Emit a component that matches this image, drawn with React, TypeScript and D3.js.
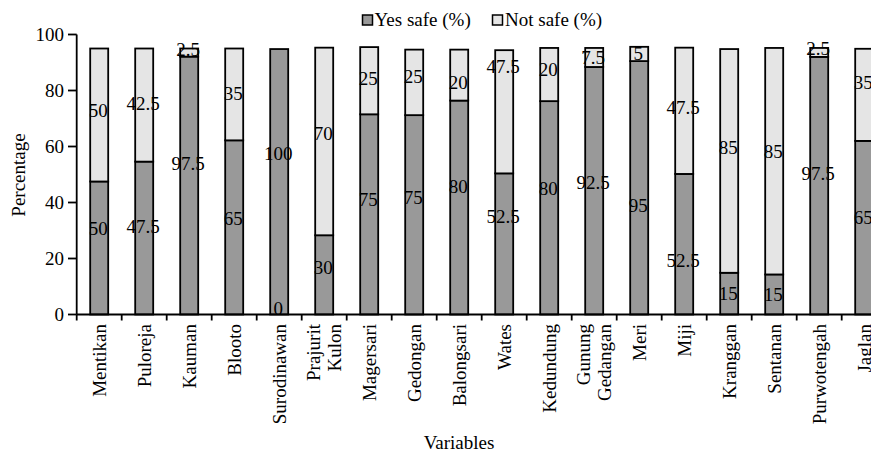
import React from "react";
import * as d3 from "d3";

const categories: string[][] = [
  ["Mentikan"], ["Puloreja"], ["Kauman"], ["Blooto"], ["Surodinawan"], ["Prajurit", "Kulon"],
  ["Magersari"], ["Gedongan"], ["Balongsari"], ["Wates"], ["Kedundung"], ["Gunung", "Gedangan"],
  ["Meri"], ["Miji"], ["Kranggan"], ["Sentanan"], ["Purwotengah"], ["Jaglan"],
];

// bar heights as drawn (axis units)
const yesValues = [47.5, 54.6, 92.1, 62.2, 94.8, 28.3, 71.5, 71.2, 76.4, 50.4, 76.2, 88.4, 90.5, 50.2, 14.9, 14.3, 92.0, 62.0];
const notValues = [47.5, 40.4, 2.9, 32.8, 0, 67.0, 24.0, 23.4, 18.2, 44.0, 19.0, 6.8, 5.1, 45.1, 79.9, 80.9, 3.2, 32.9];

// printed data labels
const yesLabels = ["50", "47.5", "97.5", "65", "100", "30", "75", "75", "80", "52.5", "80", "92.5", "95", "52.5", "15", "15", "97.5", "65"];
const notLabels = ["50", "42.5", "2.5", "35", "0", "70", "25", "25", "20", "47.5", "20", "7.5", "5", "47.5", "85", "85", "2.5", "35"];

// where the labels sit (axis units)
const yesLabelAt = [30.9, 31.6, 54.1, 34.5, 57.7, 17, 41.3, 42, 45.9, 35.2, 45.2, 47.3, 39.1, 19.5, 7.7, 7.3, 50.5, 34.8];
const notLabelAt = [73, 75.5, 94.8, 79.1, 2.3, 64.8, 84.5, 85.2, 83, 88.8, 87.7, 92, 93.4, 74.1, 59.8, 58.4, 95.2, 83];

const yTicks = [0, 20, 40, 60, 80, 100];
const seriesNames = ["Yes safe (%)", "Not safe (%)"];

const W = 871;
const H = 454;
const FONT = "'Liberation Serif', 'Times New Roman', serif";
const FS = 19;
const YES_FILL = "#999999";
const NOT_FILL = "#e5e5e5";
const SW = 1.8;

export default function App() {
  const keys = categories.map((c) => c.join(" "));
  const x = d3.scaleBand<string>().domain(keys).range([76.7, 886.7]).paddingInner(0.6).paddingOuter(0.3);
  const y = d3.scaleLinear().domain([0, 100]).range([314.5, 34.5]);
  const step = x.step();
  const bw = x.bandwidth();

  return (
    <svg width={W} height={H} style={{ position: "absolute", left: 0, top: 0 }} fontFamily={FONT}>
      <rect width={W} height={H} fill="#fff" />
      {/* legend */}
      <g>
        <rect x={362.5} y={15} width={10} height={10} fill={YES_FILL} stroke="#000" strokeWidth={1.5} />
        <text x={374.5} y={26} fontSize={FS}>{seriesNames[0]}</text>
        <rect x={492.5} y={15} width={10} height={10} fill={NOT_FILL} stroke="#000" strokeWidth={1.5} />
        <text x={505} y={26} fontSize={FS}>{seriesNames[1]}</text>
      </g>

      {/* bars */}
      {keys.map((k, i) => {
        const x0 = x(k)!;
        const yv = yesValues[i];
        const nv = notValues[i];
        return (
          <g key={k}>
            <rect x={x0} y={y(yv)} width={bw} height={y(0) - y(yv)} fill={YES_FILL} stroke="#000" strokeWidth={SW} />
            {nv > 0 && (
              <rect x={x0} y={y(yv + nv)} width={bw} height={y(yv) - y(yv + nv)} fill={NOT_FILL} stroke="#000" strokeWidth={SW} />
            )}
          </g>
        );
      })}

      {/* data labels */}
      {keys.map((k, i) => {
        const cx = x(k)! + bw / 2;
        return (
          <g key={"l" + k} fontSize={FS} textAnchor="middle">
            <text x={cx - 1} y={y(yesLabelAt[i])} dy="0.35em">{yesLabels[i]}</text>
            <text x={cx - 1} y={y(notLabelAt[i])} dy="0.35em">{notLabels[i]}</text>
          </g>
        );
      })}

      {/* y axis */}
      <line x1={76.7} x2={76.7} y1={y(100)} y2={y(0)} stroke="#000" strokeWidth={SW} />
      {yTicks.map((t) => (
        <g key={t}>
          <line x1={68} x2={76.7} y1={y(t)} y2={y(t)} stroke="#000" strokeWidth={SW} />
          <text x={64} y={y(t)} dy="0.35em" textAnchor="end" fontSize={FS}>{t}</text>
        </g>
      ))}

      {/* x axis */}
      <line x1={76.7} x2={W} y1={y(0)} y2={y(0)} stroke="#000" strokeWidth={SW} />
      {keys.map((k, i) => {
        const tx = 76.7 + i * step;
        return <line key={"t" + k} x1={tx} x2={tx} y1={y(0)} y2={y(0) + 6} stroke="#000" strokeWidth={SW} />;
      })}

      {/* category labels */}
      {categories.map((lines, i) => {
        const cx = x(keys[i])! + bw / 2;
        return (
          <g key={"c" + i}>
            {lines.map((ln, j) => {
              const off = (j - (lines.length - 1) / 2) * 21;
              const px = cx + 6.5 + off;
              return (
                <text key={j} transform={`translate(${px},324) rotate(-90)`} textAnchor="end" fontSize={FS}>
                  {ln}
                </text>
              );
            })}
          </g>
        );
      })}

      {/* axis titles */}
      <text transform="translate(25,175) rotate(-90)" textAnchor="middle" fontSize={FS}>Percentage</text>
      <text x={459} y={449} textAnchor="middle" fontSize={FS}>Variables</text>
    </svg>
  );
}
